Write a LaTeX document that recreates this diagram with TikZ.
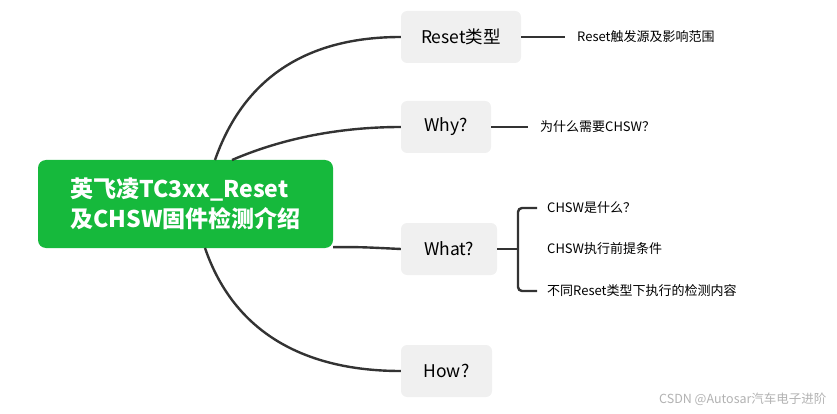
\documentclass[tikz,border=0pt]{standalone}
\usepackage{fontspec}
\setmainfont{Noto Sans CJK SC}
\begin{document}
\begin{tikzpicture}[x=1pt,y=-1pt,
  br/.style={fill=gray!12,rounded corners=6pt,minimum height=52pt,font=\fontsize{17.5}{20}\selectfont,inner sep=0pt},
  leaf/.style={font=\fontsize{13}{15}\selectfont,anchor=west,inner sep=0pt},
  ln/.style={line width=2.4pt,draw=black!80}]
\useasboundingbox (0,0) rectangle (837,414);
\node[fill={rgb,255:red,22;green,185;blue,60},rounded corners=8pt,minimum width=295pt,minimum height=88pt,text=white,font=\fontsize{23}{30}\selectfont\bfseries,align=left] (root) at (185.5,204) {英飞凌TC3xx\_Reset\\及CHSW固件检测介绍};
\node[br,minimum width=120pt] (reset) at (461,37) {Reset类型};
\node[br,minimum width=90pt] (why) at (446,127) {Why?};
\node[br,minimum width=96pt] (what) at (449,249) {What?};
\node[br,minimum width=91pt] (how) at (446.5,371) {How?};
\coordinate (r0) at (215,160);
\coordinate (w0) at (232,160);
\coordinate (h0) at (205,248);
\draw[ln] (r0) .. controls (250,60) and (330,37) .. (reset.west);
\draw[ln] (w0) .. controls (290,135) and (350,127) .. (why.west);
\draw[ln] (root.south east) ++(0,-1) .. controls (360,247) .. (what.west);
\draw[ln] (h0) .. controls (240,350) and (330,371) .. (how.west);
\node[leaf] (l1) at (577,37) {Reset触发源及影响范围};
\draw[ln] (reset.east) -- (565,37);
\node[leaf] (l2) at (540,127) {为什么需要CHSW？};
\draw[ln] (why.east) -- (528,127);
\node[leaf] (l3) at (547,208) {CHSW是什么？};
\node[leaf] (l4) at (547,249) {CHSW执行前提条件};
\node[leaf] (l5) at (547,291) {不同Reset类型下执行的检测内容};
\draw[ln] (what.east) -- (517,249);
\draw[ln,rounded corners=4pt] (537,208) -- (518,208) -- (518,291) -- (537,291);
\node[anchor=east,text=gray!60,font=\fontsize{12.5}{14}\selectfont] (wm) at (830,399) {CSDN @Autosar汽车电子进阶};
\end{tikzpicture}
\end{document}
